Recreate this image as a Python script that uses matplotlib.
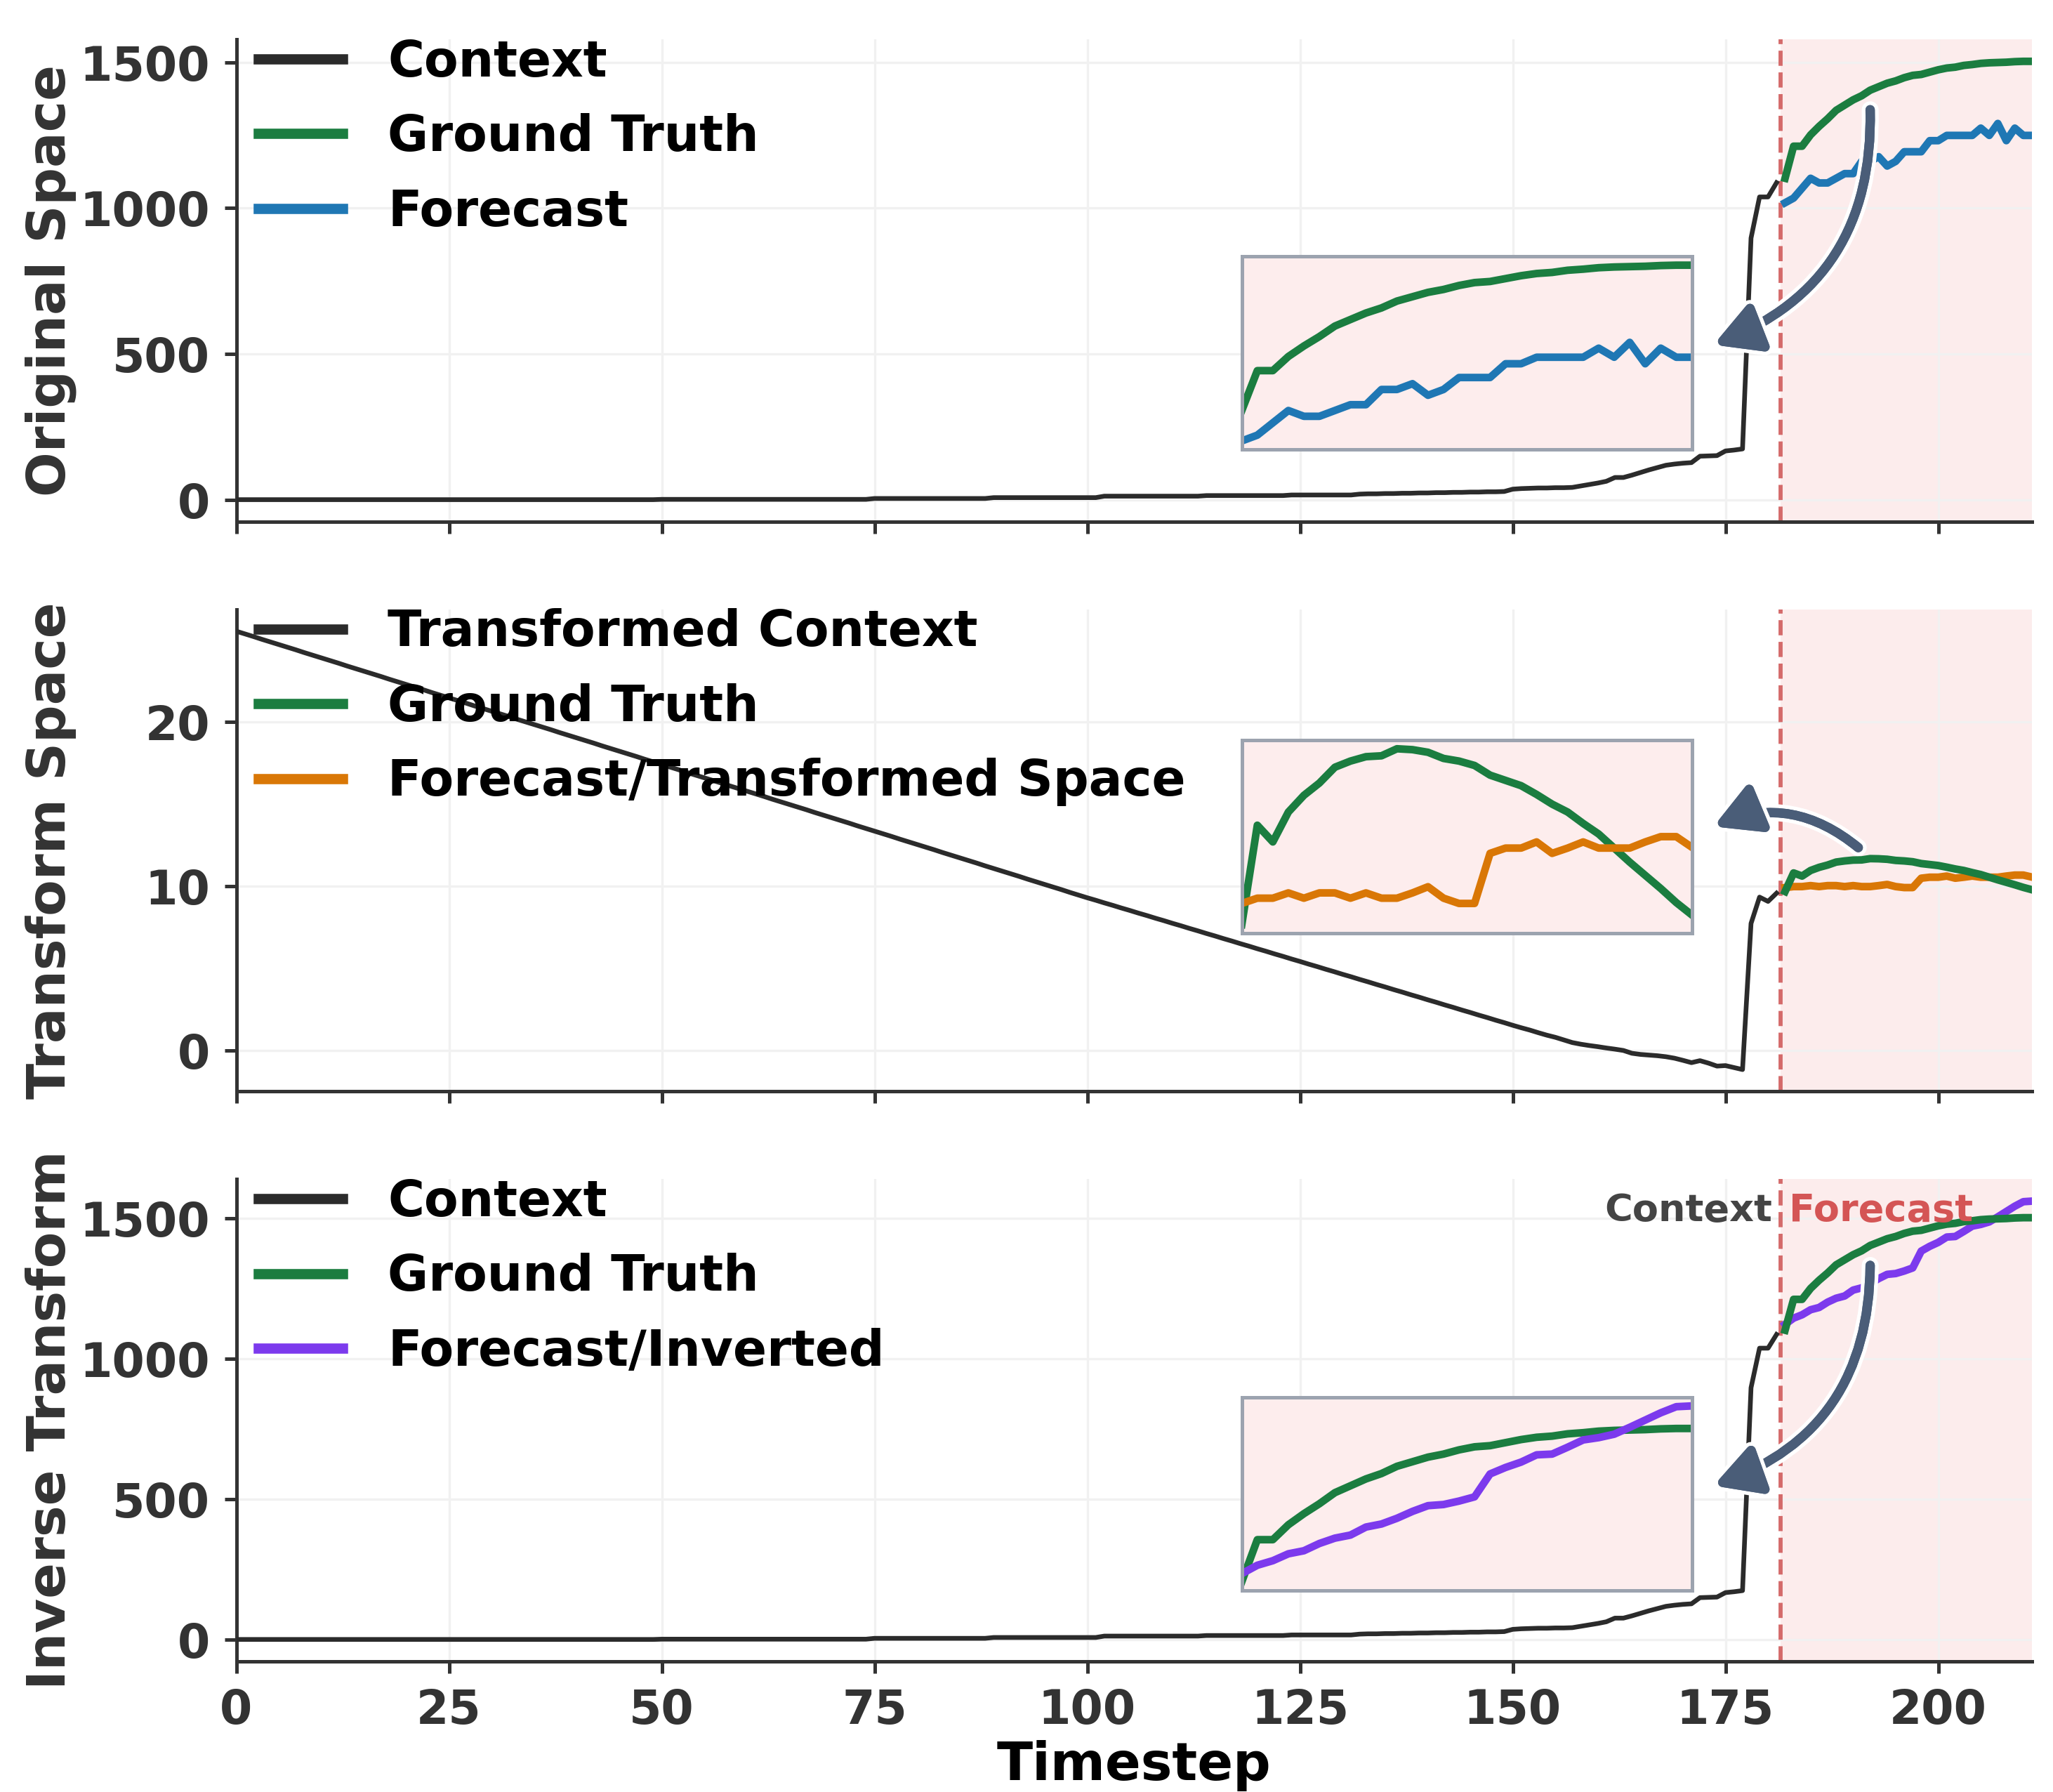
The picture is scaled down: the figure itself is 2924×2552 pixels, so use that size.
import numpy as np
import matplotlib
matplotlib.use("Agg")
import matplotlib.pyplot as plt
from matplotlib.patches import FancyArrowPatch
import matplotlib.patheffects as pe

# ---------------- data ----------------
context = [
    0, 0, 0, 0, 0, 0, 0, 0, 0, 0,
    0, 0, 0, 0, 0, 0, 0, 0, 0, 0,
    0, 0, 0, 0, 0, 0, 0, 0, 0, 0,
    0, 0, 0, 0, 0, 0, 0, 0, 0, 0,
    0, 0, 0, 0, 0, 0, 0, 0, 0, 0,
    1, 1, 1, 1, 1, 1, 1, 1, 1, 1,
    1, 1, 1, 1, 1, 1, 1, 1, 1, 1,
    1, 1, 1, 1, 1, 4, 4, 4, 4, 4,
    4, 4, 4, 4, 4, 4, 4, 4, 4, 7,
    7, 7, 7, 7, 7, 7, 7, 7, 7, 7,
    7, 7, 12, 12, 12, 12, 12, 12, 12, 12,
    12, 12, 12, 12, 14, 14, 14, 14, 14, 14,
    14, 14, 14, 14, 16, 16, 16, 16, 16, 16,
    16, 16, 19, 20, 20, 21, 21, 22, 22, 23,
    23, 24, 24, 25, 25, 26, 26, 27, 27, 28,
    36, 38, 39, 40, 40, 41, 41, 42, 47, 52,
    57, 63, 76, 76, 84, 93, 102, 110, 118, 122,
    125, 127, 149, 150, 151, 167, 170, 174, 897, 1038,
    1038, 1087,
]

context_transformed = [
    25.50, 25.34, 25.18, 25.01, 24.85, 24.69, 24.53, 24.37, 24.20, 24.04,
    23.88, 23.72, 23.56, 23.39, 23.23, 23.07, 22.91, 22.75, 22.58, 22.42,
    22.26, 22.10, 21.94, 21.77, 21.61, 21.45, 21.29, 21.13, 20.96, 20.80,
    20.64, 20.48, 20.32, 20.15, 19.99, 19.83, 19.67, 19.51, 19.34, 19.18,
    19.02, 18.86, 18.70, 18.53, 18.37, 18.21, 18.05, 17.89, 17.72, 17.56,
    17.40, 17.24, 17.08, 16.91, 16.75, 16.59, 16.43, 16.27, 16.10, 15.94,
    15.78, 15.62, 15.46, 15.29, 15.13, 14.97, 14.81, 14.65, 14.48, 14.32,
    14.16, 14.00, 13.84, 13.67, 13.51, 13.35, 13.19, 13.03, 12.86, 12.70,
    12.54, 12.38, 12.22, 12.05, 11.89, 11.73, 11.57, 11.41, 11.24, 11.08,
    10.92, 10.76, 10.60, 10.43, 10.27, 10.11, 9.95, 9.79, 9.62, 9.46,
    9.30, 9.15, 8.99, 8.84, 8.68, 8.53, 8.37, 8.22, 8.06, 7.91,
    7.75, 7.60, 7.44, 7.29, 7.13, 6.98, 6.82, 6.67, 6.51, 6.36,
    6.20, 6.05, 5.89, 5.74, 5.58, 5.43, 5.27, 5.12, 4.96, 4.81,
    4.65, 4.50, 4.34, 4.19, 4.03, 3.88, 3.72, 3.57, 3.41, 3.26,
    3.10, 2.95, 2.79, 2.64, 2.48, 2.33, 2.17, 2.02, 1.86, 1.71,
    1.55, 1.40, 1.26, 1.10, 0.95, 0.82, 0.66, 0.50, 0.40, 0.32,
    0.25, 0.17, 0.10, 0.02, -0.15, -0.22, -0.26, -0.30, -0.36, -0.45,
    -0.58, -0.72, -0.60, -0.75, -0.93, -0.90, -1.02, -1.14, 7.74, 9.34,
    9.08, 9.58,
]

ground_truth = [
    1102, 1212, 1212, 1251, 1280, 1306, 1335, 1353, 1371, 1385,
    1404, 1416, 1428, 1436, 1447, 1455, 1458, 1466, 1474, 1480,
    1483, 1489, 1492, 1496, 1498, 1499, 1500, 1502, 1503, 1503,
]

forecast = [
    1018, 1034, 1068, 1102, 1086, 1086, 1102, 1118, 1118, 1160,
    1160, 1176, 1144, 1160, 1193, 1193, 1193, 1231, 1231, 1249,
    1249, 1249, 1249, 1274, 1249, 1290, 1231, 1274, 1249, 1249,
]

ground_truth_transformed = [
    9.68, 10.81, 10.62, 10.96, 11.15, 11.29, 11.47, 11.54, 11.59, 11.60,
    11.68, 11.67, 11.64, 11.57, 11.54, 11.49, 11.38, 11.32, 11.26, 11.16,
    11.05, 10.96, 10.83, 10.71, 10.55, 10.39, 10.24, 10.09, 9.93, 9.79,
]

forecast_transformed = [
    9.92, 9.98, 9.98, 10.04, 9.98, 10.04, 10.04, 9.98, 10.04, 9.98,
    9.98, 10.04, 10.11, 9.98, 9.92, 9.92, 10.49, 10.55, 10.55, 10.62,
    10.49, 10.55, 10.62, 10.55, 10.55, 10.55, 10.62, 10.68, 10.68, 10.56,
]

forecast_inverted = [
    1123, 1145, 1157, 1175, 1183, 1202, 1216, 1224, 1245, 1253,
    1268, 1286, 1301, 1304, 1313, 1324, 1384, 1401, 1415, 1434,
    1436, 1454, 1473, 1479, 1488, 1506, 1525, 1544, 1560, 1562,
]

x_ticks = [0, 25, 50, 75, 100, 125, 150, 175, 200]

# ---------------- style ----------------
plt.rcParams["font.family"] = ["DejaVu Sans"]
plt.rcParams["font.weight"] = "bold"
plt.rcParams["axes.labelweight"] = "bold"

C_CTX = "#2b2b2b"
C_GT = "#1b7d40"
C_FC = "#1f77b4"
C_TR = "#d97706"
C_INV = "#7c3aed"
C_ARROW = "#4a5d78"
C_SPAN = "#fcecec"
C_SPLIT = "#d46a6a"
C_SPINE = "#333333"

n_ctx = len(context)
x_ctx = np.arange(n_ctx)
x_fc = np.arange(n_ctx, n_ctx + len(forecast))
split = n_ctx - 0.5
x_end = x_fc[-1]

fig, axes = plt.subplots(3, 1, figsize=(2924 / 300, 2552 / 300), dpi=300, sharex=True)
fig.subplots_adjust(left=0.1151, right=0.9897, top=0.978, bottom=0.0729, hspace=0.182)

panels = [
    dict(ylabel="Original Space", ctx=context, ctx_label="Context",
         gt=ground_truth, fc=forecast, fc_label="Forecast", fc_color=C_FC,
         inset=[0.56, 0.149, 0.2506, 0.401], arrow=((192.0, 1337), (173.6, 531)), rad=-0.35),
    dict(ylabel="Transform Space", ctx=context_transformed, ctx_label="Transformed Context",
         gt=ground_truth_transformed, fc=forecast_transformed,
         fc_label="Forecast/Transformed Space", fc_color=C_TR,
         inset=[0.56, 0.328, 0.2506, 0.401], arrow=((190.6, 12.35), (173.6, 13.63)), rad=0.3),
    dict(ylabel="Inverse Transform", ctx=context, ctx_label="Context",
         gt=ground_truth, fc=forecast_inverted, fc_label="Forecast/Inverted", fc_color=C_INV,
         inset=[0.56, 0.147, 0.2506, 0.401], arrow=((192.0, 1333), (173.6, 548)), rad=-0.35),
]

for i, (ax, p) in enumerate(zip(axes, panels)):
    ax.axvspan(split, x_end, color=C_SPAN, zorder=0, lw=0)
    ax.grid(True, color="#f1f1f1", lw=0.8, zorder=0.5)
    ax.set_axisbelow(True)
    ax.plot(x_ctx, p["ctx"], color=C_CTX, lw=1.6, label=p["ctx_label"], zorder=3)
    ax.plot(x_fc, p["gt"], color=C_GT, lw=2.6, label="Ground Truth", zorder=4)
    ax.plot(x_fc, p["fc"], color=p["fc_color"], lw=2.6, label=p["fc_label"], zorder=3.5)
    ax.axvline(split, color=C_SPLIT, lw=1.4, ls="--", zorder=2)
    ax.set_xlim(0, x_end)
    ax.set_ylabel(p["ylabel"], fontsize=18, color=C_SPINE)
    ax.yaxis.set_label_coords(-0.089, 0.5)

    for s in ["top", "right"]:
        ax.spines[s].set_visible(False)
    for s in ["left", "bottom"]:
        ax.spines[s].set_color(C_SPINE)
        ax.spines[s].set_linewidth(1.2)
    ax.tick_params(axis="both", labelsize=16, colors=C_SPINE, length=4, width=1.2, pad=5)

    leg = ax.legend(loc="upper left", bbox_to_anchor=(0.004, 1.033), frameon=False,
                    fontsize=17, borderaxespad=0, borderpad=0.3, labelspacing=0.53,
                    handlelength=1.7, handletextpad=0.9)
    for line in leg.get_lines():
        line.set_linewidth(3.5)
    for t in leg.get_texts():
        t.set_fontweight("bold")

    # inset zoom of forecast window
    ins = ax.inset_axes(p["inset"], zorder=5)
    ins.set_facecolor("#fdeded")
    ins.plot(x_fc, p["gt"], color=C_GT, lw=2.6)
    ins.plot(x_fc, p["fc"], color=p["fc_color"], lw=2.6)
    ins.set_xlim(x_fc[0], x_fc[-1])
    ins.set_xticks([])
    ins.set_yticks([])
    for s in ins.spines.values():
        s.set_color("#9ca3af")
        s.set_linewidth(1.2)

    (xa, ya), (xb, yb) = p["arrow"]
    arr = FancyArrowPatch((xa, ya), (xb, yb), connectionstyle=f"arc3,rad={p['rad']}",
                          arrowstyle="-|>,head_length=0.4,head_width=0.22", mutation_scale=32,
                          lw=3.2, color=C_ARROW, shrinkA=0, shrinkB=0,
                          capstyle="round", joinstyle="round", zorder=8)
    arr.set_path_effects([pe.withStroke(linewidth=5.8, foreground="white"), pe.Normal()])
    ax.add_patch(arr)

axes[0].set_yticks([0, 500, 1000, 1500])
axes[1].set_yticks([0, 10, 20])
axes[2].set_yticks([0, 500, 1000, 1500])
axes[2].set_xticks(x_ticks)
for a in axes:
    for lab in a.get_yticklabels() + a.get_xticklabels():
        lab.set_fontweight("bold")
axes[2].set_xlabel("Timestep", fontsize=18, color="black", labelpad=2)

ax3 = axes[2]
ax3.text(split - 1.0, 0.935, "Context", transform=ax3.get_xaxis_transform(),
         ha="right", va="center", fontsize=13, fontweight="bold", color="#444444", zorder=6)
ax3.text(split + 1.0, 0.935, "Forecast", transform=ax3.get_xaxis_transform(),
         ha="left", va="center", fontsize=13, fontweight="bold", color="#d45555", zorder=6)

fig.savefig("out.png", dpi=300)
